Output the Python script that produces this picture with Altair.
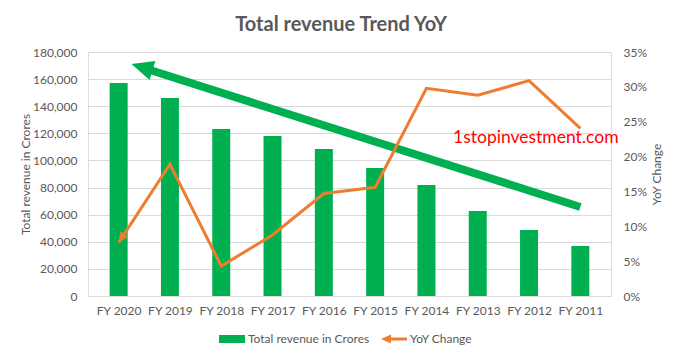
import json
import altair as alt
import pandas as pd

years = ["FY 2020", "FY 2019", "FY 2018", "FY 2017", "FY 2016",
         "FY 2015", "FY 2014", "FY 2013", "FY 2012", "FY 2011"]
revenue = [157100, 146100, 123200, 118000, 108400, 94400, 81900, 62700, 48700, 36900]
yoy = [0.0765, 0.189, 0.043, 0.0875, 0.147, 0.156, 0.298, 0.288, 0.309, 0.2405]

# green trend arrow (x in category index units, y in revenue units)
trend_x = [0.52, 9.0]
trend_y = [167800, 65700]
trend_head_x = [0.25]
trend_head_y = [171100]

GREEN = "#00B050"
ORANGE = "#ED7D31"
GRAY = "#595959"
FONT = "Lato"
HEAD = "M0,0 L0.9,2 L-0.9,2 Z"

df = pd.DataFrame({"x": list(range(len(years))), "y": revenue, "p": yoy})
trend_df = pd.DataFrame({"x": trend_x, "y": trend_y})
head_df = pd.DataFrame({"x": trend_head_x, "y": trend_head_y})
first_df = df.iloc[:1]
one = pd.DataFrame({"a": [0]})

label_expr = json.dumps(years) + "[datum.value]"

xaxis = alt.Axis(values=list(range(len(years))), labelExpr=label_expr, title=None,
                 grid=False, ticks=False, domainColor="#D9D9D9", labelPadding=9,
                 labelFontSize=12, labelColor=GRAY, labelFont=FONT)
xscale = alt.Scale(domain=[-0.5, len(years) - 0.5], nice=False, zero=False)
yaxis = alt.Axis(values=list(range(0, 180001, 20000)), format=",.0f", title="Total revenue in Crores",
                 grid=True, gridColor="#D9D9D9", ticks=False, domain=False, labelPadding=11,
                 labelFontSize=12, labelColor=GRAY, labelFont=FONT,
                 titleFont=FONT, titleFontSize=12, titleFontWeight="normal",
                 titleColor=GRAY, titlePadding=0)
yscale = alt.Scale(domain=[0, 180000], nice=False)
paxis = alt.Axis(orient="right", values=[round(i * 0.05, 2) for i in range(8)], format=".0%",
                 title="YoY Change", grid=False, ticks=False, domain=False, labelPadding=12,
                 labelFontSize=12, labelColor=GRAY, labelFont=FONT,
                 titleFont=FONT, titleFontSize=12, titleFontWeight="normal",
                 titleColor=GRAY, titlePadding=17, titleAngle=270)
pscale = alt.Scale(domain=[0, 0.3501], nice=False)


def X():
    return alt.X("x:Q", scale=xscale, axis=xaxis)


def Y():
    return alt.Y("y:Q", scale=yscale, axis=yaxis)


def P():
    return alt.Y("p:Q", scale=pscale, axis=paxis)


bars = alt.Chart(df).mark_bar(color=GREEN, size=18).encode(x=X(), y=Y())
shaft = alt.Chart(trend_df).mark_line(color=GREEN, strokeWidth=8, strokeCap="butt").encode(x=X(), y=Y())
shead = alt.Chart(head_df).mark_point(shape=HEAD, filled=True, size=484, angle=287, color=GREEN,
                                      opacity=1, strokeWidth=0).encode(x=X(), y=Y())

title = alt.Chart(one).mark_text(align="center", baseline="alphabetic", fontSize=20, fontWeight="bold",
                                 color=GRAY, font=FONT).encode(
    x=alt.value(253), y=alt.value(-21), text=alt.value("Total revenue Trend YoY"))

wm = alt.Chart(one).mark_text(align="left", baseline="middle", fontSize=17.5, color="#FF0000",
                              font=FONT).encode(x=alt.value(365), y=alt.value(86),
                                                text=alt.value("1stopinvestment.com"))

leg_rect = alt.Chart(one).mark_rect(color=GREEN).encode(
    x=alt.value(131), x2=alt.value(157), y=alt.value(283), y2=alt.value(291))
leg_t1 = alt.Chart(one).mark_text(align="left", baseline="middle", fontSize=12, color=GRAY,
                                  font=FONT).encode(x=alt.value(160), y=alt.value(287),
                                                    text=alt.value("Total revenue in Crores"))
leg_rule = alt.Chart(one).mark_rule(color=ORANGE, strokeWidth=3).encode(
    x=alt.value(298), x2=alt.value(319), y=alt.value(287))
leg_head = alt.Chart(one).mark_point(shape=HEAD, filled=True, size=100, angle=270, color=ORANGE,
                                     opacity=1, strokeWidth=0).encode(x=alt.value(293), y=alt.value(287))
leg_t2 = alt.Chart(one).mark_text(align="left", baseline="middle", fontSize=12, color=GRAY,
                                  font=FONT).encode(x=alt.value(322), y=alt.value(287),
                                                    text=alt.value("YoY Change"))

left = alt.layer(bars, shaft, shead, wm, title, leg_rect, leg_t1, leg_rule, leg_head, leg_t2)

line = alt.Chart(df).mark_line(color=ORANGE, strokeWidth=3).encode(x=X(), y=P())
lhead = alt.Chart(first_df).mark_point(shape=HEAD, filled=True, size=110, angle=213, color=ORANGE,
                                       opacity=1, strokeWidth=0).encode(x=X(), y=P())
right = alt.layer(line, lhead)

chart = alt.layer(left, right).resolve_scale(y="independent").properties(
    width=523, height=244,
    autosize=alt.AutoSizeParams(type="none"),
    padding={"left": 80, "top": 44, "right": 62, "bottom": 54},
).configure_view(stroke=None).configure(background="white")

chart.save("out.html", embed_options={"renderer": "svg", "actions": False})
